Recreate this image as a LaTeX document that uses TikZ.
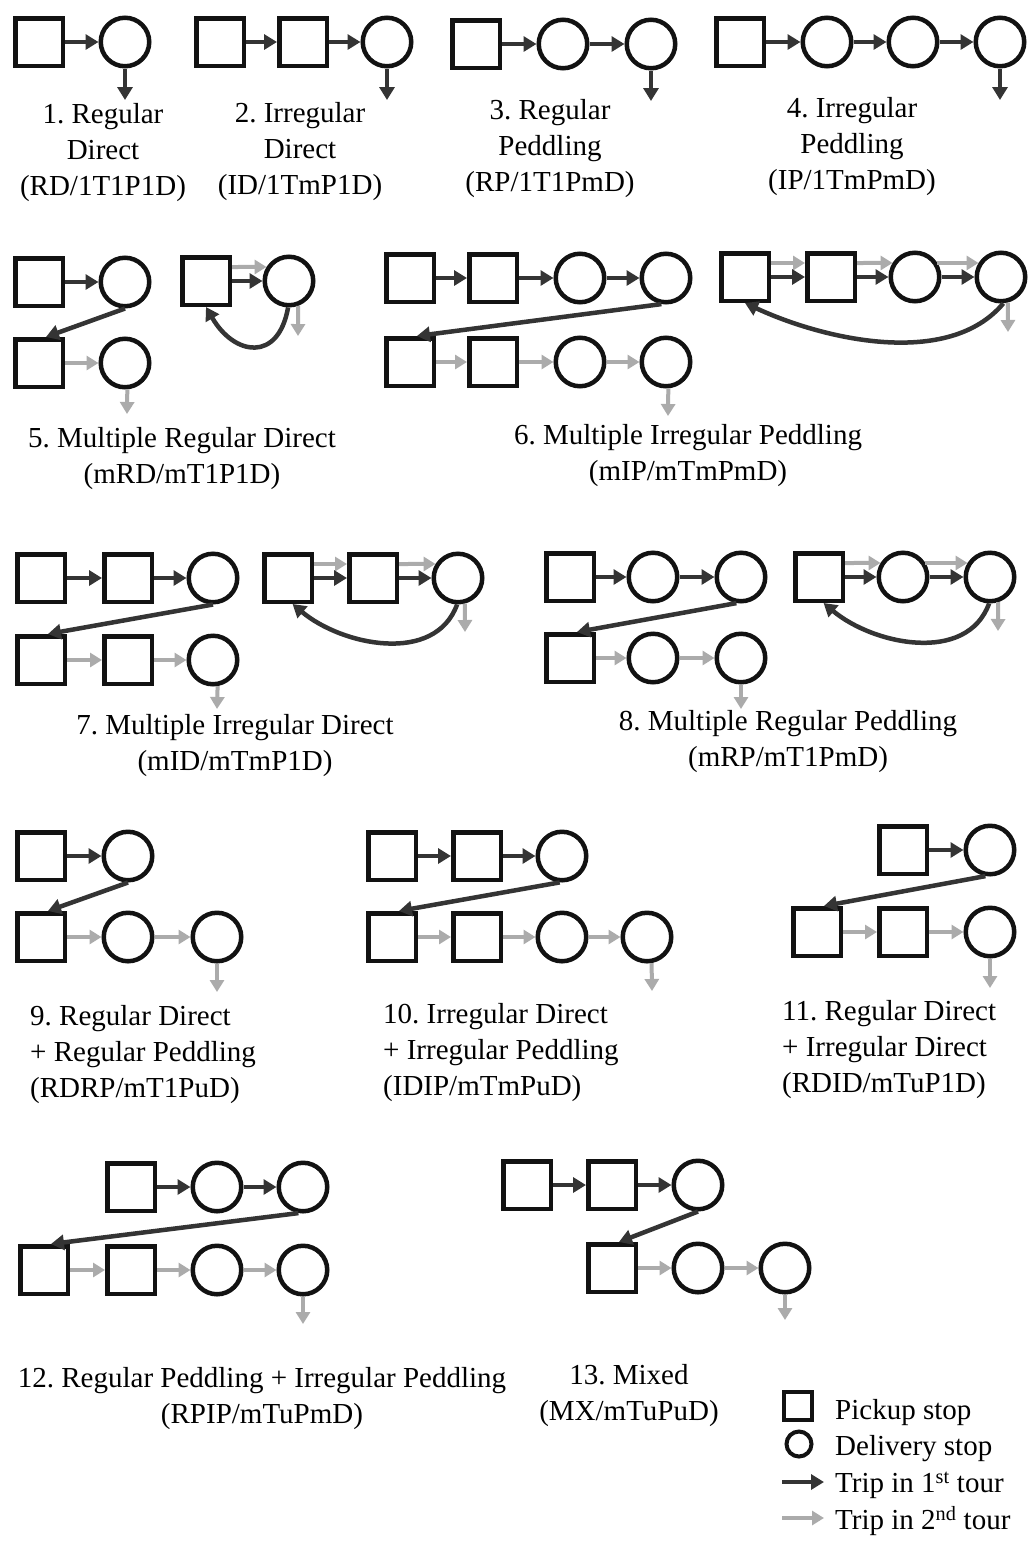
\documentclass[tikz,border=0pt]{standalone}
\usepackage{fontspec}
\setmainfont{Liberation Serif}
\usepackage{xcolor}
\usetikzlibrary{arrows.meta,positioning}
\definecolor{stopline}{HTML}{121212}
\definecolor{tourdark}{HTML}{343434}
\definecolor{tourlight}{HTML}{ABABAB}
\frenchspacing
\tikzset{
  pickup/.style={
    shape = rectangle,
    draw = stopline,
    line width = 4.5pt,
    minimum size = 47.5pt,
    inner sep = 0pt
  },
  delivery/.style={
    shape = circle,
    draw = stopline,
    line width = 4.5pt,
    minimum size = 48.5pt,
    inner sep = 0pt
  },
  firsttour/.style={
    draw = tourdark,
    line width = 4.5pt,
    -{Triangle[length=13pt,width=15pt]}
  },
  secondtour/.style={
    draw = tourlight,
    line width = 4pt,
    -{Triangle[length=12pt,width=14pt]}
  },
  caption/.style={
    align = center,
    inner sep = 0pt,
    font = \fontsize{29}{36}\selectfont
  },
  captionL/.style={
    caption,
    align = left,
    anchor = west
  }
}

\begin{document}
\begin{tikzpicture}[x=1pt,y=-1pt]
  \path[fill=white,use as bounding box] (0,0) rectangle (1029,1543);

  % 1. Regular Direct
  \node[pickup] (p1a) at (39,42) {};
  \node[delivery] (p1b) at (125,42) {};
  \coordinate (p1x) at (125,100);
  \draw[firsttour] (p1a) -- (p1b);
  \draw[firsttour] (p1b.south) -- (p1x);
  \node[caption] (c1) at (103,153) {1. Regular\\Direct\\(RD/1T1P1D)};

  % 2. Irregular Direct
  \node[pickup] (p2a) at (220,42) {};
  \node[pickup] (p2b) at (303,42) {};
  \node[delivery] (p2c) at (387,42) {};
  \coordinate (p2x) at (387,100);
  \draw[firsttour] (p2a) -- (p2b);
  \draw[firsttour] (p2b) -- (p2c);
  \draw[firsttour] (p2c.south) -- (p2x);
  \node[caption] (c2) at (300,152) {2. Irregular\\Direct\\(ID/1TmP1D)};

  % 3. Regular Peddling
  \node[pickup] (p3a) at (476,44) {};
  \node[delivery] (p3b) at (563,44) {};
  \node[delivery] (p3c) at (651,44) {};
  \coordinate (p3x) at (651,101);
  \draw[firsttour] (p3a) -- (p3b);
  \draw[firsttour] (p3b) -- (p3c);
  \draw[firsttour] (p3c.south) -- (p3x);
  \node[caption] (c3) at (550,149) {3. Regular\\Peddling\\(RP/1T1PmD)};

  % 4. Irregular Peddling
  \node[pickup] (p4a) at (740,42) {};
  \node[delivery] (p4b) at (827,42) {};
  \node[delivery] (p4c) at (913,42) {};
  \node[delivery] (p4d) at (1000,42) {};
  \coordinate (p4x) at (1000,100);
  \draw[firsttour] (p4a) -- (p4b);
  \draw[firsttour] (p4b) -- (p4c);
  \draw[firsttour] (p4c) -- (p4d);
  \draw[firsttour] (p4d.south) -- (p4x);
  \node[caption] (c4) at (852,147) {4. Irregular\\Peddling\\(IP/1TmPmD)};

  % 5. Multiple Regular Direct
  \node[pickup] (p5a) at (39,282) {};
  \node[delivery] (p5b) at (125,282) {};
  \node[pickup] (p5c) at (39,363) {};
  \node[delivery] (p5d) at (125,363) {};
  \coordinate (p5x) at (127,414);
  \draw[firsttour] (p5a) -- (p5b);
  \draw[firsttour] (p5b.south) -- (p5c.75);
  \draw[secondtour] (p5c) -- (p5d);
  \draw[secondtour] (p5d.-85) -- (p5x);

  \node[pickup] (p5e) at (206,281) {};
  \node[delivery] (p5f) at (289,281) {};
  \coordinate (p5y) at (298,336);
  \draw[secondtour] ([yshift=14pt]p5e.east) -- (p5f.148);
  \draw[firsttour] (p5e) -- (p5f);
  \draw[firsttour] (p5f.-92) to[out=-100,in=-60,looseness=1.75] (p5e.south);
  \draw[secondtour] (p5f.-70) -- (p5y);
  \node[caption] (c5) at (182,459) {5. Multiple Regular Direct\\(mRD/mT1P1D)};

  % 6. Multiple Irregular Peddling
  \node[pickup] (p6a) at (410,278) {};
  \node[pickup] (p6b) at (493,278) {};
  \node[delivery] (p6c) at (580,278) {};
  \node[delivery] (p6d) at (666,278) {};
  \node[pickup] (p6e) at (410,362) {};
  \node[pickup] (p6f) at (493,362) {};
  \node[delivery] (p6g) at (580,362) {};
  \node[delivery] (p6h) at (666,362) {};
  \coordinate (p6x) at (668,416);
  \draw[firsttour] (p6a) -- (p6b);
  \draw[firsttour] (p6b) -- (p6c);
  \draw[firsttour] (p6c) -- (p6d);
  \draw[firsttour] (p6d.-100) -- (p6e.75);
  \draw[secondtour] (p6e) -- (p6f);
  \draw[secondtour] (p6f) -- (p6g);
  \draw[secondtour] (p6g) -- (p6h);
  \draw[secondtour] (p6h.-85) -- (p6x);

  \node[pickup] (p6i) at (745,277) {};
  \node[pickup] (p6j) at (831,277) {};
  \node[delivery] (p6k) at (915,277) {};
  \node[delivery] (p6l) at (1001,277) {};
  \coordinate (p6y) at (1008,332);
  \draw[secondtour] ([yshift=14pt]p6i.east) -- ([yshift=14pt]p6j.west);
  \draw[secondtour] ([yshift=14pt]p6j.east) -- (p6k.148);
  \draw[secondtour] (p6k.32) -- (p6l.148);
  \draw[firsttour] (p6i) -- (p6j);
  \draw[firsttour] (p6j) -- (p6k);
  \draw[firsttour] (p6k) -- (p6l);
  \draw[firsttour] (p6l.-85) to[out=-130,in=-25,looseness=0.85] (p6i.south);
  \draw[secondtour] (p6l.-75) -- (p6y);
  \node[caption] (c6) at (688,456) {6. Multiple Irregular Peddling\\(mIP/mTmPmD)};

  % 7. Multiple Irregular Direct
  \node[pickup] (p7a) at (41,578) {};
  \node[pickup] (p7b) at (128,578) {};
  \node[delivery] (p7c) at (213,578) {};
  \node[pickup] (p7d) at (41,660) {};
  \node[pickup] (p7e) at (128,660) {};
  \node[delivery] (p7f) at (213,660) {};
  \coordinate (p7x) at (217,709);
  \draw[firsttour] (p7a) -- (p7b);
  \draw[firsttour] (p7b) -- (p7c);
  \draw[firsttour] (p7c.south) -- (p7d.75);
  \draw[secondtour] (p7d) -- (p7e);
  \draw[secondtour] (p7e) -- (p7f);
  \draw[secondtour] (p7f.-80) -- (p7x);

  \node[pickup] (p7g) at (288,578) {};
  \node[pickup] (p7h) at (373,578) {};
  \node[delivery] (p7i) at (458,578) {};
  \coordinate (p7y) at (465,632);
  \draw[secondtour] ([yshift=14pt]p7g.east) -- ([yshift=14pt]p7h.west);
  \draw[secondtour] ([yshift=14pt]p7h.east) -- (p7i.148);
  \draw[firsttour] (p7g) -- (p7h);
  \draw[firsttour] (p7h) -- (p7i);
  \draw[firsttour] (p7i.-92) to[out=-110,in=-40] (p7g.-80);
  \draw[secondtour] (p7i.-75) -- (p7y);
  \node[caption] (c7) at (235,746) {7. Multiple Irregular Direct\\(mID/mTmP1D)};

  % 8. Multiple Regular Peddling
  \node[pickup] (p8a) at (570,577) {};
  \node[delivery] (p8b) at (653,577) {};
  \node[delivery] (p8c) at (741,577) {};
  \node[pickup] (p8d) at (570,658) {};
  \node[delivery] (p8e) at (653,658) {};
  \node[delivery] (p8f) at (741,658) {};
  \coordinate (p8x) at (741,709);
  \draw[firsttour] (p8a) -- (p8b);
  \draw[firsttour] (p8b) -- (p8c);
  \draw[firsttour] (p8c.-100) -- (p8d.75);
  \draw[secondtour] (p8d) -- (p8e);
  \draw[secondtour] (p8e) -- (p8f);
  \draw[secondtour] (p8f.south) -- (p8x);

  \node[pickup] (p8g) at (819,577) {};
  \node[delivery] (p8h) at (903,577) {};
  \node[delivery] (p8i) at (990,577) {};
  \coordinate (p8y) at (998,631);
  \draw[secondtour] ([yshift=14pt]p8g.east) -- (p8h.148);
  \draw[secondtour] (p8h.32) -- (p8i.148);
  \draw[firsttour] (p8g) -- (p8h);
  \draw[firsttour] (p8h) -- (p8i);
  \draw[firsttour] (p8i.-92) to[out=-110,in=-40] (p8g.-80);
  \draw[secondtour] (p8i.-72) -- (p8y);
  \node[caption] (c8) at (788,742) {8. Multiple Regular Peddling\\(mRP/mT1PmD)};

  % 9. Regular Direct + Regular Peddling
  \node[pickup] (p9a) at (41,856) {};
  \node[delivery] (p9b) at (128,856) {};
  \node[pickup] (p9c) at (41,937) {};
  \node[delivery] (p9d) at (128,937) {};
  \node[delivery] (p9e) at (217,937) {};
  \coordinate (p9x) at (217,992);
  \draw[firsttour] (p9a) -- (p9b);
  \draw[firsttour] (p9b.south) -- (p9c.75);
  \draw[secondtour] (p9c) -- (p9d);
  \draw[secondtour] (p9d) -- (p9e);
  \draw[secondtour] (p9e.south) -- (p9x);
  \node[captionL] (c9) at (30,1055) {9. Regular Direct\\+ Regular Peddling\\(RDRP/mT1PuD)};

  % 10. Irregular Direct + Irregular Peddling
  \node[pickup] (p10a) at (392,856) {};
  \node[pickup] (p10b) at (477,856) {};
  \node[delivery] (p10c) at (562,856) {};
  \node[pickup] (p10d) at (392,937) {};
  \node[pickup] (p10e) at (477,937) {};
  \node[delivery] (p10f) at (562,937) {};
  \node[delivery] (p10g) at (647,937) {};
  \coordinate (p10x) at (652,991);
  \draw[firsttour] (p10a) -- (p10b);
  \draw[firsttour] (p10b) -- (p10c);
  \draw[firsttour] (p10c.-95) -- (p10d.75);
  \draw[secondtour] (p10d) -- (p10e);
  \draw[secondtour] (p10e) -- (p10f);
  \draw[secondtour] (p10f) -- (p10g);
  \draw[secondtour] (p10g.-80) -- (p10x);
  \node[captionL] (c10) at (383,1053) {10. Irregular Direct\\+ Irregular Peddling\\(IDIP/mTmPuD)};

  % 11. Regular Direct + Irregular Direct
  \node[pickup] (p11a) at (903,850) {};
  \node[delivery] (p11b) at (990,850) {};
  \node[pickup] (p11c) at (817,932) {};
  \node[pickup] (p11d) at (903,932) {};
  \node[delivery] (p11e) at (990,932) {};
  \coordinate (p11x) at (990,988);
  \draw[firsttour] (p11a) -- (p11b);
  \draw[firsttour] (p11b.-100) -- (p11c.75);
  \draw[secondtour] (p11c) -- (p11d);
  \draw[secondtour] (p11d) -- (p11e);
  \draw[secondtour] (p11e.south) -- (p11x);
  \node[captionL] (c11) at (782,1050) {11. Regular Direct\\+ Irregular Direct\\(RDID/mTuP1D)};

  % 12. Regular Peddling + Irregular Peddling
  \node[pickup] (p12a) at (131,1187) {};
  \node[delivery] (p12b) at (217,1187) {};
  \node[delivery] (p12c) at (303,1187) {};
  \node[pickup] (p12d) at (44,1270) {};
  \node[pickup] (p12e) at (131,1270) {};
  \node[delivery] (p12f) at (217,1270) {};
  \node[delivery] (p12g) at (303,1270) {};
  \coordinate (p12x) at (303,1324);
  \draw[firsttour] (p12a) -- (p12b);
  \draw[firsttour] (p12b) -- (p12c);
  \draw[firsttour] (p12c.-100) -- (p12d.75);
  \draw[secondtour] (p12d) -- (p12e);
  \draw[secondtour] (p12e) -- (p12f);
  \draw[secondtour] (p12f) -- (p12g);
  \draw[secondtour] (p12g.south) -- (p12x);
  \node[caption] (c12) at (262,1399) {12. Regular Peddling + Irregular Peddling\\(RPIP/mTuPmD)};

  % 13. Mixed
  \node[pickup] (p13a) at (527,1185) {};
  \node[pickup] (p13b) at (612,1185) {};
  \node[delivery] (p13c) at (698,1185) {};
  \node[pickup] (p13d) at (612,1268) {};
  \node[delivery] (p13e) at (698,1268) {};
  \node[delivery] (p13f) at (785,1268) {};
  \coordinate (p13x) at (785,1320);
  \draw[firsttour] (p13a) -- (p13b);
  \draw[firsttour] (p13b) -- (p13c);
  \draw[firsttour] (p13c.south) -- (p13d.75);
  \draw[secondtour] (p13d) -- (p13e);
  \draw[secondtour] (p13e) -- (p13f);
  \draw[secondtour] (p13f.south) -- (p13x);
  \node[caption] (c13) at (629,1396) {13. Mixed\\(MX/mTuPuD)};

  % legend
  \node[pickup, minimum size=28pt, line width=4pt] (lgA) at (798,1406) {};
  \node[delivery, minimum size=25pt, line width=4pt] (lgB) at (799,1444) {};
  \coordinate (lgC) at (782,1482);
  \coordinate (lgD) at (824,1482);
  \coordinate (lgE) at (782,1518);
  \coordinate (lgF) at (824,1518);
  \draw[firsttour] (lgC) -- (lgD);
  \draw[secondtour] (lgE) -- (lgF);
  \node[captionL] (lgtA) at (835,1413) {Pickup stop};
  \node[captionL] (lgtB) at (835,1449) {Delivery stop};
  \node[captionL] (lgtC) at (835,1485) {Trip in 1\textsuperscript{st} tour};
  \node[captionL] (lgtD) at (835,1521) {Trip in 2\textsuperscript{nd} tour};
\end{tikzpicture}
\end{document}
